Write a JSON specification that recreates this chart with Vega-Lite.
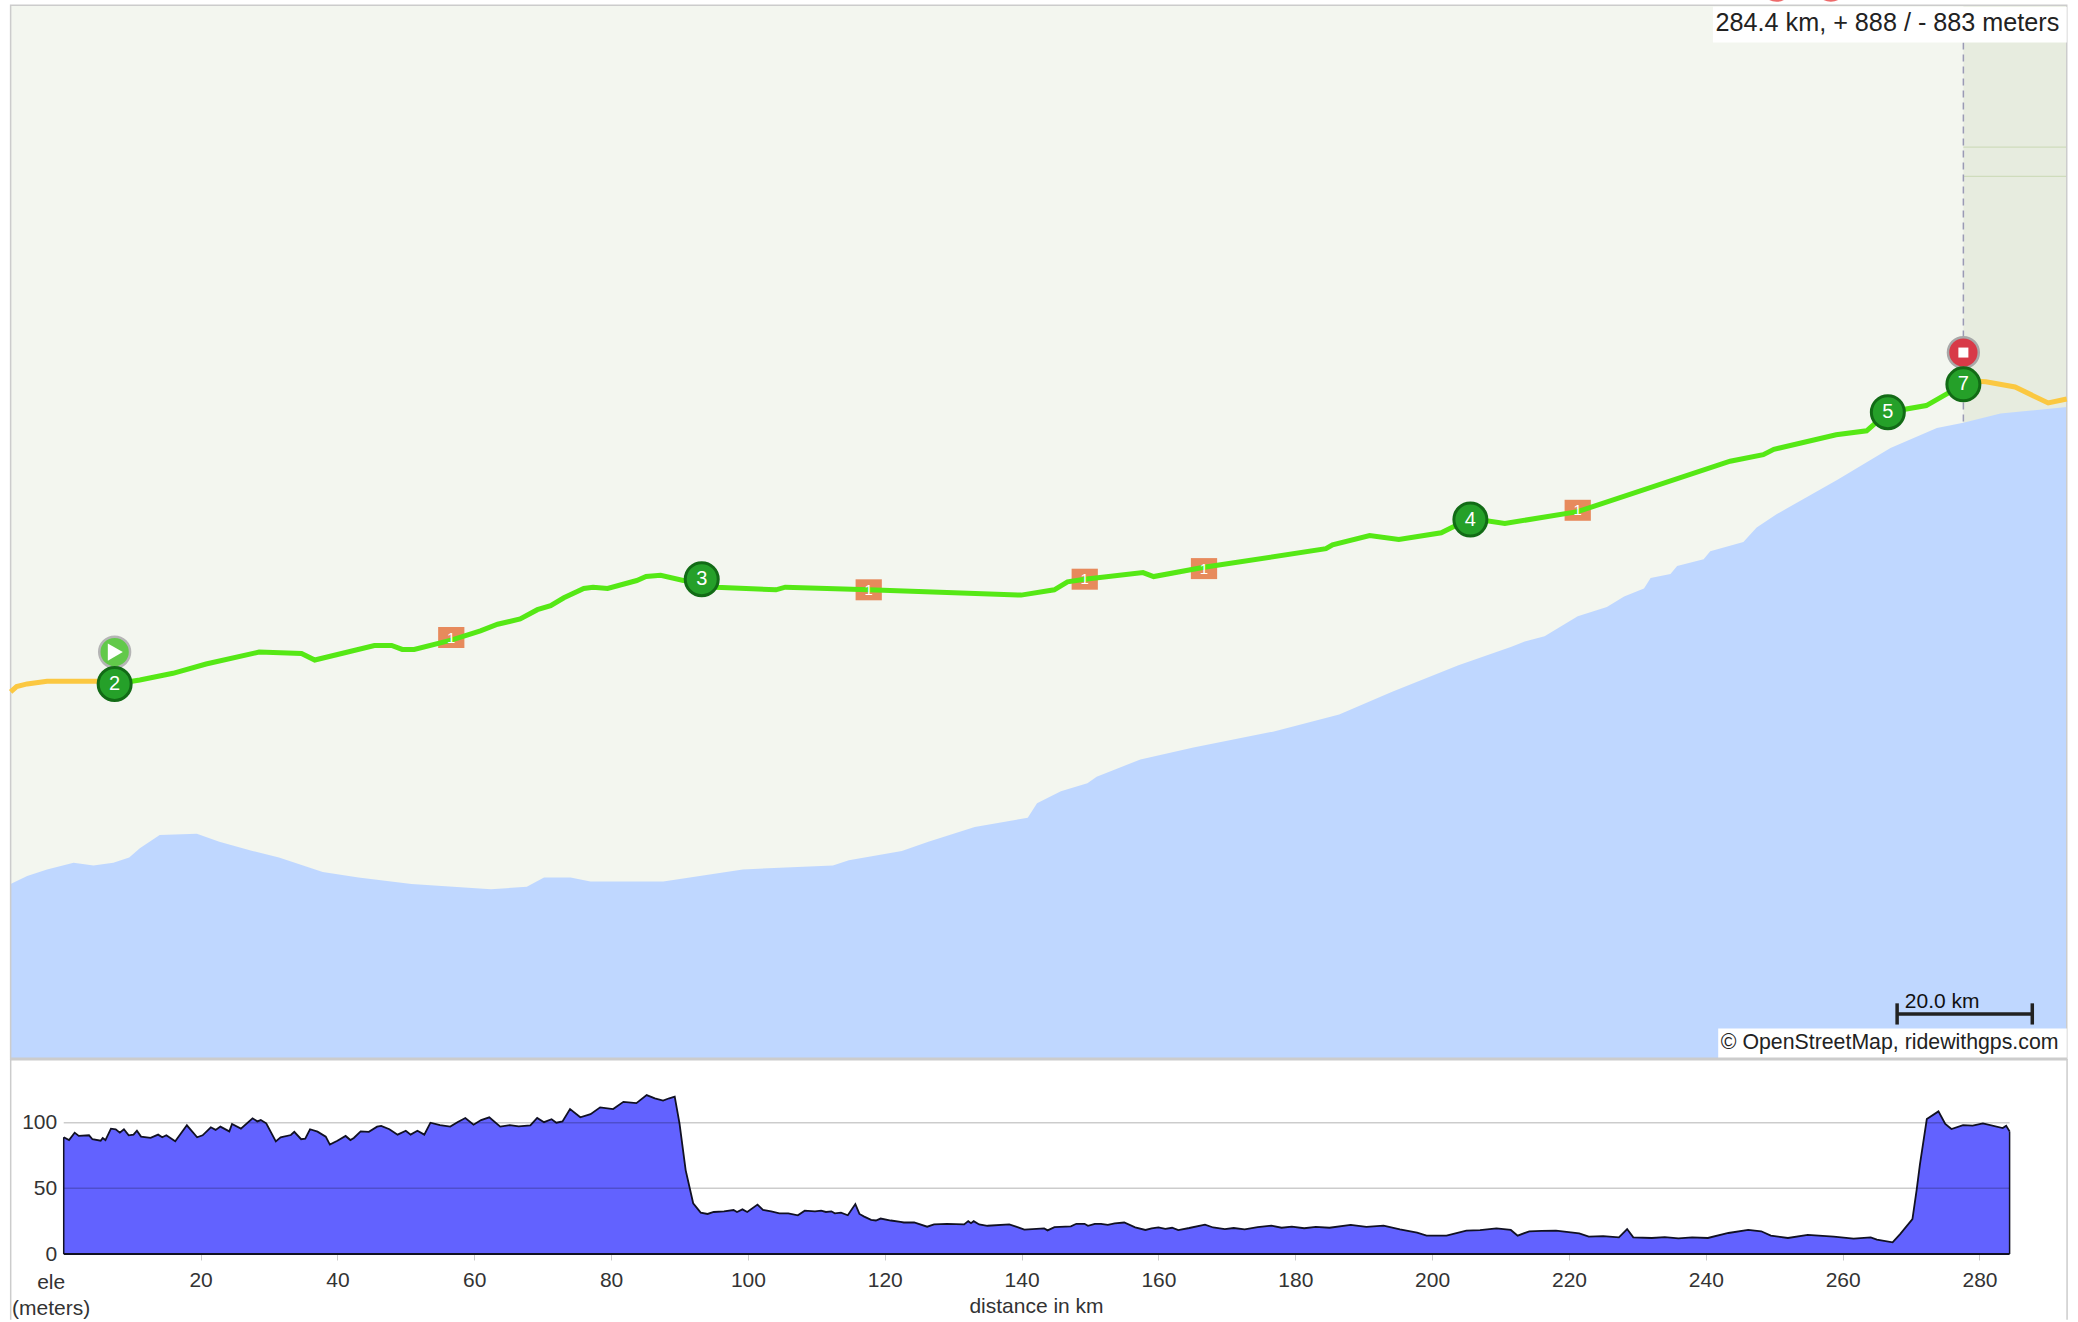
{
"$schema":"https://vega.github.io/schema/vega-lite/v6.json",
"background":"white",
"padding":0,
"spacing":0,
"bounds":"flush",
"config":{"view":{"stroke":null},"font":"Liberation Sans"},
"vconcat":[
{
"width":2078,"height":1059,
"encoding":{
 "x":{"field":"x","type":"quantitative","scale":{"domain":[1,1569],"nice":false,"zero":false},"axis":null},
 "y":{"field":"y","type":"quantitative","scale":{"domain":[799,0],"nice":false,"zero":false},"axis":null}
},
"layer":[
 {"data":{"values":[{"x":1340,"y":-10.6},{"x":1381,"y":-10.6}]},"mark":{"type":"point","filled":true,"shape":"circle","size":1000,"color":"#ee6a6a","opacity":1,"clip":true}},
 {"data":{"values":[{"x":7.5,"x2":1559,"y":4,"y2":799}]},"mark":{"type":"rect","color":"#f3f6ef"},"encoding":{"x2":{"field":"x2"},"y2":{"field":"y2"}}},
 {"data":{"values":[{"x":1481,"x2":1559,"y":4,"y2":340}]},"mark":{"type":"rect","color":"#e7ecdf"},"encoding":{"x2":{"field":"x2"},"y2":{"field":"y2"}}},
 {"data":{"values":[{"x":1481,"x2":1559,"y":111,"y2":111},{"x":1481,"x2":1559,"y":133,"y2":133}]},"mark":{"type":"rule","color":"#cfdcbc","strokeWidth":1.2},"encoding":{"x2":{"field":"x2"}}},
 {"data":{"values":[{"x":7.5,"y":667},{"x":20,"y":661},{"x":35,"y":656},{"x":55,"y":651},{"x":70,"y":653},{"x":85,"y":651},{"x":97,"y":647},{"x":105,"y":640},{"x":120,"y":630},{"x":148,"y":629},{"x":165,"y":635},{"x":190,"y":642},{"x":210,"y":647},{"x":243,"y":658},{"x":270,"y":662},{"x":310,"y":667},{"x":370,"y":671},{"x":397,"y":669},{"x":410,"y":662},{"x":430,"y":662},{"x":445,"y":665},{"x":500,"y":665},{"x":560,"y":656},{"x":628,"y":653},{"x":640,"y":649},{"x":680,"y":642},{"x":700,"y":635},{"x":735,"y":624},{"x":775,"y":617},{"x":782,"y":606},{"x":800,"y":597},{"x":820,"y":591},{"x":827,"y":586},{"x":860,"y":573},{"x":900,"y":564},{"x":960,"y":552},{"x":1010,"y":539},{"x":1050,"y":522},{"x":1100,"y":502},{"x":1140,"y":488},{"x":1150,"y":484},{"x":1165,"y":480},{"x":1190,"y":465},{"x":1212,"y":458},{"x":1225,"y":450},{"x":1240,"y":444},{"x":1245,"y":436},{"x":1260,"y":433},{"x":1265,"y":427},{"x":1285,"y":422},{"x":1290,"y":416},{"x":1315,"y":409},{"x":1325,"y":398},{"x":1340,"y":388},{"x":1386,"y":362},{"x":1426,"y":338},{"x":1461,"y":323},{"x":1481,"y":319},{"x":1509,"y":312},{"x":1559,"y":307}]},"mark":{"type":"area","color":"#bfd7ff"},"encoding":{"y2":{"datum":799}}},
 {"data":{"values":[{"x":1481,"y":32,"y2":318}]},"mark":{"type":"rule","color":"#9a9ab5","strokeWidth":1.5,"strokeDash":[7,5]},"encoding":{"y2":{"field":"y2"}}},
 {"data":{"values":[{"x":7.5,"x2":1559,"y":4,"y2":799}]},"mark":{"type":"rect","fill":"transparent","stroke":"#cccccc","strokeWidth":1.5},"encoding":{"x2":{"field":"x2"},"y2":{"field":"y2"}}},
 {"data":{"values":[{"x":340,"y":481},{"x":655,"y":445},{"x":818,"y":437},{"x":908,"y":429},{"x":1190,"y":385},{"x":1481,"y":290}]},"mark":{"type":"point","filled":true,"opacity":1,"color":"#e78a5c","shape":"M-1.25,-1H1.25V1H-1.25Z","size":441}},
 {"data":{"values":[{"x":7.5,"y":522},{"x":12,"y":518},{"x":20,"y":516},{"x":35,"y":514},{"x":75,"y":514},{"x":86,"y":516}]},"mark":{"type":"line","color":"#fbc841","strokeWidth":5}},
 {"data":{"values":[{"x":1481,"y":287},{"x":1498,"y":288},{"x":1520,"y":292},{"x":1545,"y":304},{"x":1559,"y":301}]},"mark":{"type":"line","color":"#fbc841","strokeWidth":5}},
 {"data":{"values":[{"x":86,"y":516},{"x":105,"y":513},{"x":130,"y":508},{"x":155,"y":501},{"x":195,"y":492},{"x":227,"y":493},{"x":237,"y":498},{"x":282,"y":487},{"x":295,"y":487},{"x":303,"y":490},{"x":312,"y":490},{"x":340,"y":483},{"x":362,"y":476},{"x":375,"y":471},{"x":392,"y":467},{"x":405,"y":460},{"x":415,"y":457},{"x":425,"y":451},{"x":440,"y":444},{"x":447,"y":443},{"x":458,"y":444},{"x":480,"y":438},{"x":487,"y":435},{"x":498,"y":434},{"x":515,"y":438},{"x":529,"y":437},{"x":540,"y":443},{"x":585,"y":445},{"x":592,"y":443},{"x":655,"y":445},{"x":770,"y":449},{"x":795,"y":445},{"x":805,"y":439},{"x":818,"y":437},{"x":862,"y":432},{"x":870,"y":435},{"x":908,"y":428},{"x":1000,"y":414},{"x":1005,"y":411},{"x":1033,"y":404},{"x":1055,"y":407},{"x":1087,"y":402},{"x":1109,"y":391},{"x":1135,"y":395},{"x":1190,"y":386},{"x":1305,"y":348},{"x":1330,"y":343},{"x":1338,"y":339},{"x":1385,"y":328},{"x":1408,"y":325},{"x":1424,"y":311},{"x":1453,"y":306},{"x":1481,"y":290}]},"mark":{"type":"line","color":"#55e815","strokeWidth":5}},
 {"data":{"values":[{"x":340,"y":481},{"x":655,"y":445},{"x":818,"y":437},{"x":908,"y":429},{"x":1190,"y":385}]},"mark":{"type":"text","color":"#ffffff","fontSize":15,"text":"1","align":"center","baseline":"middle"}},
 {"data":{"values":[{"x":86,"y":492}]},"mark":{"type":"point","filled":true,"opacity":1,"shape":"circle","size":950,"fill":"#62c94a","stroke":"#b5b5b5","strokeWidth":2.5}},
 {"data":{"values":[{"x":86.5,"y":492}]},"mark":{"type":"point","filled":true,"opacity":1,"shape":"triangle-right","size":300,"color":"#ffffff"}},
 {"data":{"values":[{"x":1481,"y":266}]},"mark":{"type":"point","filled":true,"opacity":1,"shape":"circle","size":950,"fill":"#d83a48","stroke":"#a8a8a8","strokeWidth":2.5}},
 {"data":{"values":[{"x":1481,"y":266}]},"mark":{"type":"point","filled":true,"opacity":1,"shape":"square","size":100,"color":"#ffffff"}},
 {"data":{"values":[{"x":86,"y":516,"n":"2"},{"x":529,"y":437,"n":"3"},{"x":1109,"y":392,"n":"4"},{"x":1424,"y":311,"n":"5"},{"x":1481,"y":290,"n":"7"}]},"mark":{"type":"point","filled":true,"opacity":1,"shape":"circle","size":1089,"fill":"#25a029","stroke":"#126b16","strokeWidth":3}},
 {"data":{"values":[{"x":86,"y":516,"n":"2"},{"x":529,"y":437,"n":"3"},{"x":1109,"y":392,"n":"4"},{"x":1424,"y":311,"n":"5"},{"x":1481,"y":290,"n":"7"}]},"mark":{"type":"text","color":"#ffffff","fontSize":20,"align":"center","baseline":"middle"},"encoding":{"text":{"field":"n"}}},
 {"data":{"values":[{"x":1431,"x2":1533,"y":765}]},"mark":{"type":"rule","color":"#222222","strokeWidth":3.5},"encoding":{"x2":{"field":"x2"}}},
 {"data":{"values":[{"x":1431,"y":757,"y2":773},{"x":1533,"y":757,"y2":773}]},"mark":{"type":"rule","color":"#222222","strokeWidth":3.5},"encoding":{"y2":{"field":"y2"}}},
 {"data":{"values":[{"x":1465,"y":756,"t":"20.0 km"}]},"mark":{"type":"text","color":"#111111","fontSize":21,"align":"center","baseline":"middle"},"encoding":{"text":{"field":"t"}}},
 {"data":{"values":[{"x":1296,"x2":1559,"y":776,"y2":799},{"x":1292,"x2":1559,"y":5,"y2":32}]},"mark":{"type":"rect","color":"#ffffff"},"encoding":{"x2":{"field":"x2"},"y2":{"field":"y2"}}},
 {"data":{"values":[{"x":1298,"y":787,"t":"© OpenStreetMap, ridewithgps.com"}]},"mark":{"type":"text","color":"#222222","fontSize":21.3,"align":"left","baseline":"middle"},"encoding":{"text":{"field":"t"}}},
 {"data":{"values":[{"x":1294,"y":17,"t":"284.4 km, + 888 / - 883 meters"}]},"mark":{"type":"text","color":"#222222","fontSize":25.2,"align":"left","baseline":"middle"},"encoding":{"text":{"field":"t"}}}
]
},
{
"width":2078,"height":195,
"encoding":{
 "x":{"field":"km","type":"quantitative","scale":{"domain":[-9.02,294.69],"nice":false,"zero":false},
  "axis":{"title":"distance in km","values":[20,40,60,80,100,120,140,160,180,200,220,240,260,280],"grid":false,"domain":false,"tickColor":"#cccccc","tickSize":6,"labelFontSize":21,"labelColor":"#333333","labelPadding":9.5,"titleFontSize":21,"titleFontWeight":"normal","titleColor":"#333333","titlePadding":4.5,"titleX":1034,"labelFlush":false}},
 "y":{"field":"m","type":"quantitative","scale":{"domain":[0,148.5],"nice":false,"zero":false},
  "axis":{"title":["ele","(meters)"],"values":[0,50,100],"grid":false,"domain":false,"ticks":false,"offset":-62.7,"labelFontSize":21,"labelColor":"#333333","labelPadding":8,"titleFontSize":21,"titleFontWeight":"normal","titleColor":"#333333","titleAngle":0,"titleAlign":"center","titleBaseline":"top","titleX":-14,"titleY":212,"titleLineHeight":26}}
},
"layer":[
 {"data":{"values":[{"km":0,"m":88.9},{"km":0.78,"m":86.8},{"km":1.6,"m":92.4},{"km":2.2,"m":89.9},{"km":3.7,"m":90.4},{"km":4.2,"m":87.4},{"km":5.4,"m":86.3},{"km":5.7,"m":88.4},{"km":6.1,"m":86.8},{"km":6.9,"m":95.4},{"km":7.6,"m":95},{"km":8.2,"m":92.4},{"km":8.8,"m":95},{"km":9.5,"m":90.4},{"km":10.2,"m":90.9},{"km":10.7,"m":93.9},{"km":11.3,"m":89.4},{"km":12.7,"m":88.4},{"km":13.8,"m":90.9},{"km":14.4,"m":88.9},{"km":15,"m":90.4},{"km":16.3,"m":85.8},{"km":18,"m":98},{"km":19.5,"m":88.9},{"km":20.3,"m":90.4},{"km":21.5,"m":96.5},{"km":22.2,"m":94.5},{"km":22.9,"m":97},{"km":24.2,"m":93.4},{"km":24.6,"m":99},{"km":25.9,"m":95.5},{"km":27.6,"m":103.3},{"km":28.3,"m":101},{"km":28.8,"m":102},{"km":29.6,"m":99.5},{"km":31,"m":85.8},{"km":31.7,"m":88.9},{"km":33.2,"m":90.6},{"km":33.7,"m":93},{"km":34.7,"m":87.4},{"km":35.3,"m":87.9},{"km":36,"m":95},{"km":37.1,"m":93.2},{"km":38.3,"m":89.4},{"km":38.9,"m":83.3},{"km":40,"m":86.3},{"km":41.2,"m":89.9},{"km":41.9,"m":86.8},{"km":42.4,"m":88.4},{"km":43.4,"m":93.4},{"km":44.6,"m":93},{"km":45.8,"m":97},{"km":46.4,"m":97.5},{"km":47.6,"m":95},{"km":48.8,"m":90.9},{"km":50,"m":93.9},{"km":50.7,"m":90.9},{"km":51.7,"m":93.9},{"km":52.7,"m":90.9},{"km":53.6,"m":100},{"km":55,"m":98.2},{"km":56.5,"m":97},{"km":57.6,"m":100.5},{"km":58.7,"m":103.6},{"km":59.9,"m":98.5},{"km":61,"m":102},{"km":62.2,"m":104.1},{"km":63.8,"m":97},{"km":65.2,"m":98.2},{"km":66.5,"m":97.2},{"km":68.2,"m":98},{"km":69.2,"m":103.6},{"km":70.2,"m":100.4},{"km":71.3,"m":102.6},{"km":72,"m":100},{"km":72.9,"m":101},{"km":74,"m":110.4},{"km":75.5,"m":104.1},{"km":77,"m":106.5},{"km":78.4,"m":111.7},{"km":80.3,"m":110.4},{"km":81.8,"m":115.9},{"km":83.7,"m":114.9},{"km":85.2,"m":121},{"km":86.4,"m":118.5},{"km":87.6,"m":116.8},{"km":88.5,"m":118.6},{"km":89.3,"m":119.8},{"km":90,"m":99.5},{"km":90.9,"m":63.9},{"km":92,"m":38.6},{"km":93.1,"m":31.5},{"km":94.1,"m":30.5},{"km":95,"m":32},{"km":96.5,"m":32.5},{"km":97.9,"m":33.5},{"km":98.4,"m":32},{"km":99.2,"m":34},{"km":99.9,"m":32},{"km":101.4,"m":37.6},{"km":102.2,"m":33.5},{"km":103.4,"m":32.5},{"km":104.6,"m":31},{"km":105.9,"m":31},{"km":107.3,"m":29.5},{"km":108.3,"m":33},{"km":109.8,"m":32.5},{"km":110.7,"m":33},{"km":111.4,"m":32},{"km":112.2,"m":32.5},{"km":112.7,"m":31},{"km":113.6,"m":31.5},{"km":114.6,"m":29.5},{"km":115.7,"m":38},{"km":116.3,"m":30.5},{"km":117,"m":28.5},{"km":118,"m":26},{"km":118.7,"m":25.5},{"km":119.4,"m":27},{"km":120.9,"m":25.5},{"km":122.3,"m":24.5},{"km":122.8,"m":24},{"km":124.3,"m":24},{"km":126.2,"m":20.8},{"km":127.2,"m":22.5},{"km":129.1,"m":23},{"km":131.6,"m":22.5},{"km":132.2,"m":25},{"km":132.6,"m":23.5},{"km":133,"m":25},{"km":133.8,"m":22.5},{"km":135,"m":21.5},{"km":138.2,"m":22.5},{"km":139.4,"m":20.5},{"km":140.4,"m":18.5},{"km":143.3,"m":19.5},{"km":143.8,"m":18},{"km":144.8,"m":20.5},{"km":147.2,"m":21},{"km":148,"m":23},{"km":149.2,"m":23},{"km":149.7,"m":21.5},{"km":150.7,"m":23},{"km":151.6,"m":23},{"km":152.6,"m":22.2},{"km":153.6,"m":23.4},{"km":155,"m":24},{"km":156.6,"m":20.3},{"km":158.1,"m":18.3},{"km":159,"m":19.6},{"km":160,"m":20.3},{"km":161,"m":19.2},{"km":162,"m":20},{"km":162.9,"m":18.2},{"km":164.5,"m":19.8},{"km":166.8,"m":22.4},{"km":168,"m":20.2},{"km":169.7,"m":19},{"km":171,"m":19.8},{"km":172.6,"m":18.8},{"km":174.5,"m":20.4},{"km":176.5,"m":21.6},{"km":178,"m":20},{"km":179.5,"m":20.8},{"km":181.3,"m":19.6},{"km":183,"m":20.6},{"km":185,"m":20},{"km":188.1,"m":22.2},{"km":190.4,"m":20.6},{"km":192.9,"m":21.6},{"km":195.3,"m":18.8},{"km":197.8,"m":16.2},{"km":199.2,"m":14},{"km":202.1,"m":14},{"km":205,"m":17.8},{"km":207,"m":18.2},{"km":209.4,"m":19.5},{"km":211.5,"m":18.3},{"km":212.5,"m":14},{"km":214.2,"m":17.3},{"km":216,"m":17.6},{"km":218.1,"m":17.8},{"km":221.5,"m":15.7},{"km":222.9,"m":13.2},{"km":225,"m":13.6},{"km":227.3,"m":12.7},{"km":228.5,"m":19},{"km":229.4,"m":12.7},{"km":232.1,"m":12.2},{"km":234,"m":12.8},{"km":236,"m":11.9},{"km":238,"m":12.6},{"km":240.3,"m":12.2},{"km":243.3,"m":16},{"km":246.2,"m":18.3},{"km":248.1,"m":17.3},{"km":249.5,"m":14},{"km":252,"m":12.2},{"km":254.9,"m":14.5},{"km":258.7,"m":13.2},{"km":261.6,"m":11.7},{"km":264.1,"m":12.7},{"km":265,"m":10.9},{"km":267.3,"m":8.9},{"km":268.4,"m":15.2},{"km":270.2,"m":26.6},{"km":270.8,"m":48.2},{"km":271.3,"m":68.5},{"km":272.3,"m":102.8},{"km":274,"m":108.6},{"km":275,"m":99},{"km":275.9,"m":95.2},{"km":277.6,"m":98.2},{"km":279,"m":97.8},{"km":280.5,"m":99.5},{"km":283.4,"m":95.9},{"km":283.9,"m":97.7},{"km":284.4,"m":93.4}]},
  "layer":[
   {"mark":{"type":"area","color":"#6262ff"}},
   {"mark":{"type":"line","color":"#111122","strokeWidth":1.8}}
  ]},
 {"data":{"values":[{"km":0,"km2":284.4,"m":100},{"km":0,"km2":284.4,"m":50}]},"mark":{"type":"rule","color":"#000000","opacity":0.2,"strokeWidth":1.5},"encoding":{"x2":{"field":"km2"}}},
 {"data":{"values":[{"km":0,"km2":284.4,"m":0}]},"mark":{"type":"rule","color":"#111122","strokeWidth":2},"encoding":{"x2":{"field":"km2"}}},
 {"data":{"values":[{"km":0,"m":0,"m2":88.9},{"km":284.4,"m":0,"m2":93.4}]},"mark":{"type":"rule","color":"#111122","strokeWidth":1.5},"encoding":{"y2":{"field":"m2"}}},
 {"data":{"values":[{"km":-7.75,"km2":292.8,"m":148.5}]},"mark":{"type":"rule","color":"#cccccc","strokeWidth":3},"encoding":{"x2":{"field":"km2"}}},
 {"data":{"values":[{"km":-7.75,"m":148.5,"m2":-50},{"km":292.8,"m":148.5,"m2":-50}]},"mark":{"type":"rule","color":"#cccccc","strokeWidth":1.5},"encoding":{"y2":{"field":"m2"}}}
]
}
]
}
